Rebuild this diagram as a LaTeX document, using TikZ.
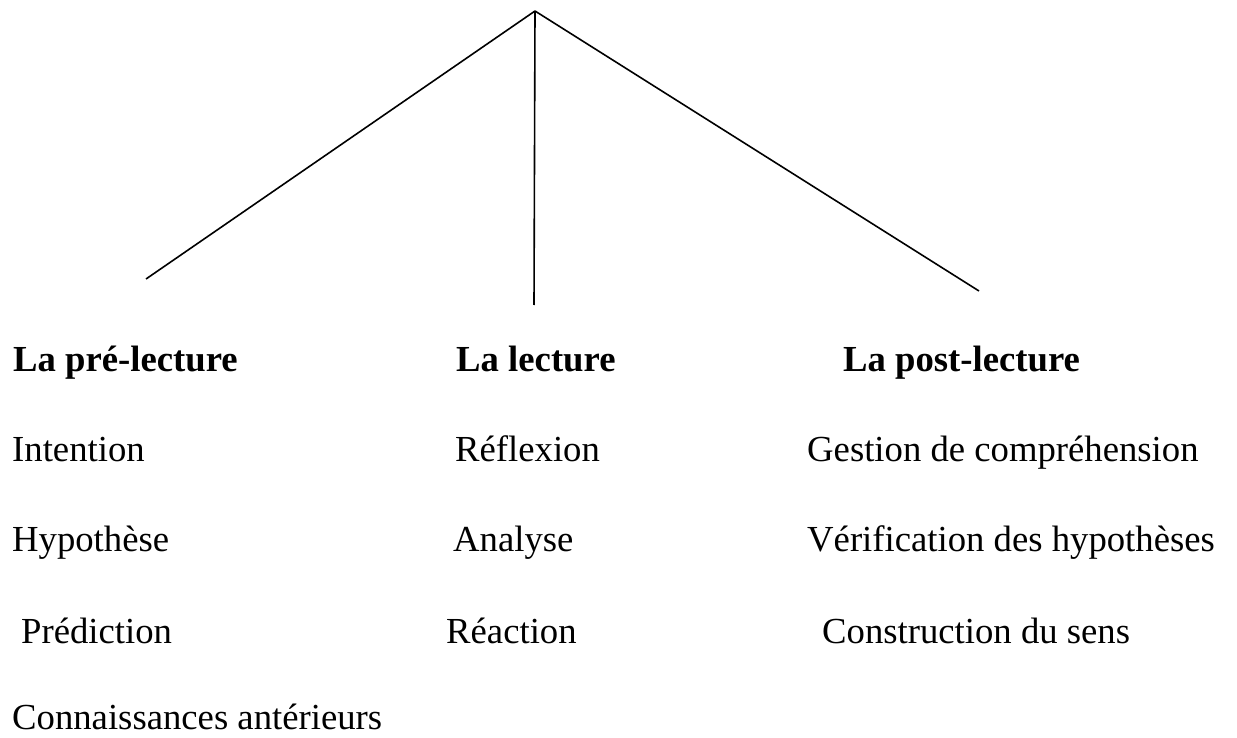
\documentclass[tikz,border=0pt]{standalone}
\usepackage{fontspec}
\setmainfont{Liberation Serif}
\begin{document}
\begin{tikzpicture}[x=1pt,y=-1pt,
  txt/.style={anchor=base west,inner sep=0pt,text depth=0pt,font=\fontsize{36.7}{44}\selectfont},
  hdr/.style={txt,font=\fontsize{36.7}{44}\selectfont\bfseries},
  branch/.style={line width=1.6pt}]
\useasboundingbox (0,0) rectangle (1237,738);
\coordinate (apex) at (535,11);
\coordinate (endL) at (146,279);
\coordinate (endM) at (534,305);
\coordinate (endR) at (979,291);
\draw[branch] (apex) -- (endL);
\draw[branch] (apex) -- (endM);
\draw[branch] (apex) -- (endR);
\node[hdr] (h1) at (13,371) {La pré-lecture};
\node[hdr] (h2) at (456,371) {La lecture};
\node[hdr] (h3) at (843,371) {La post-lecture};
\node[txt] (a1) at (12,461) {Intention};
\node[txt] (a2) at (12,551) {Hypothèse};
\node[txt] (a3) at (21,643) {Prédiction};
\node[txt] (a4) at (12,729) {Connaissances antérieurs};
\node[txt] (b1) at (455,461) {Réflexion};
\node[txt] (b2) at (453,551) {Analyse};
\node[txt] (b3) at (446,643) {Réaction};
\node[txt] (c1) at (807,461) {Gestion de compréhension};
\node[txt] (c2) at (807,551) {Vérification des hypothèses};
\node[txt] (c3) at (822,643) {Construction du sens};
\end{tikzpicture}
\end{document}
